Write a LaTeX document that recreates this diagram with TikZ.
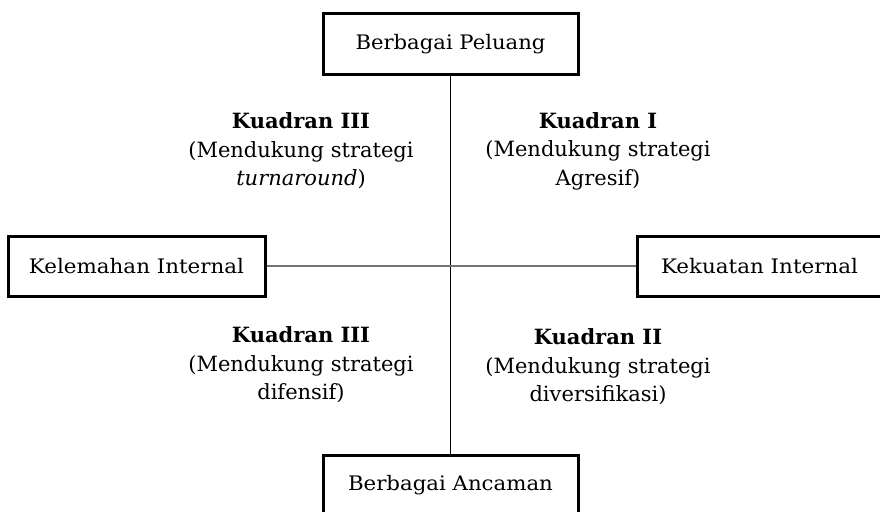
\documentclass[tikz,border=0pt]{standalone}
\usepackage{fontspec}
\setmainfont{DejaVu Serif}
\usepackage{graphicx}
\begin{document}
\begin{tikzpicture}[x=1pt,y=-1pt,
  box/.style={draw=black,line width=3pt,fill=white,rectangle,minimum height=60pt,inner sep=0pt},
  boxtext/.style={font=\fontsize{20}{24}\selectfont},
  quad/.style={align=center,font=\fontsize{21}{28.5}\selectfont,inner sep=0pt},
  axis/.style={line width=1pt}]
\clip (0,0) rectangle (880,511);
\fill[white] (0,0) rectangle (880,511);
\node[box,boxtext,minimum width=255pt] (top) at (450.5,44) {\resizebox{190pt}{\height}{Berbagai Peluang}};
\node[box,boxtext,minimum width=257pt] (left) at (136.5,266) {\resizebox{215pt}{\height}{Kelemahan Internal}};
\node[box,boxtext,minimum width=245pt] (right) at (759.5,266) {\resizebox{197pt}{\height}{Kekuatan Internal}};
\node[box,boxtext,minimum width=255pt] (bottom) at (450.5,485) {\resizebox{205pt}{\height}{Berbagai Ancaman}};
\draw[axis] (top.south) -- (bottom.north);
\draw[axis,draw=black!55,line width=1.4pt] (left.east) -- (right.west);
\node[quad] (q3a) at (301,151) {\textbf{Kuadran III}\\(Mendukung strategi\\\textit{turnaround})};
\node[quad] (q1) at (598,151) {\textbf{Kuadran I}\\(Mendukung strategi\\Agresif)};
\node[quad] (q3b) at (301,365) {\textbf{Kuadran III}\\(Mendukung strategi\\difensif)};
\node[quad] (q2) at (598,367) {\textbf{Kuadran II}\\(Mendukung strategi\\diversifikasi)};
\end{tikzpicture}
\end{document}
